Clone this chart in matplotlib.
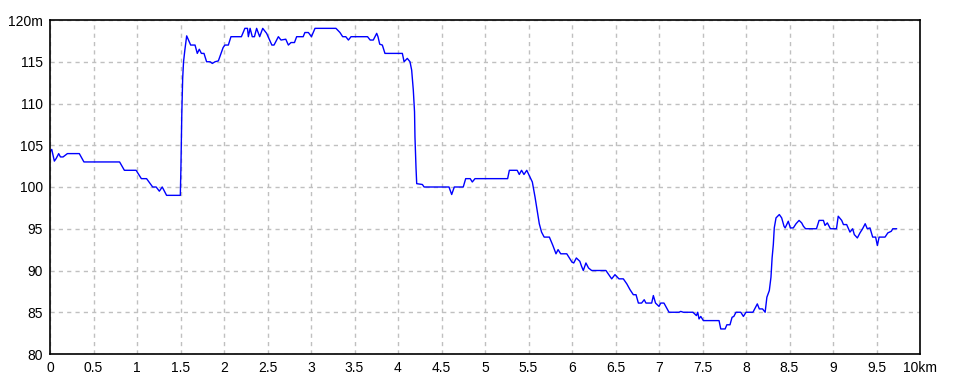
import matplotlib
matplotlib.use("Agg")
import matplotlib.pyplot as plt

# ==============================
# DATA
# ==============================

dist_km = [
    0.00, 0.02, 0.05, 0.07, 0.10, 0.12, 0.15, 0.20, 0.337, 0.39, 0.80, 0.855,
    0.99, 1.05, 1.11, 1.18, 1.22, 1.257, 1.29, 1.34, 1.498, 1.505, 1.515, 1.525,
    1.535, 1.55, 1.571, 1.617, 1.667, 1.693, 1.716, 1.74, 1.77, 1.80, 1.84,
    1.866, 1.897, 1.935, 1.99, 2.01, 2.05, 2.08, 2.20, 2.24, 2.27, 2.28, 2.30,
    2.325, 2.35, 2.375, 2.41, 2.445, 2.49, 2.55, 2.575, 2.625, 2.655, 2.71,
    2.74, 2.77, 2.81, 2.835, 2.91, 2.93, 2.97, 3.005, 3.046, 3.287, 3.333,
    3.364, 3.40, 3.43, 3.46, 3.65, 3.68, 3.716, 3.755, 3.77, 3.79, 3.82, 3.85,
    4.05, 4.07, 4.107, 4.138, 4.157, 4.176, 4.19, 4.195, 4.207, 4.215, 4.28,
    4.30, 4.586, 4.617, 4.647, 4.75, 4.778, 4.83, 4.854, 4.885, 5.26, 5.28,
    5.37, 5.394, 5.42, 5.448, 5.48, 5.517, 5.544, 5.575, 5.60, 5.624, 5.65,
    5.68, 5.74, 5.78, 5.816, 5.84, 5.87, 5.94, 6.00, 6.02, 6.05, 6.09, 6.11,
    6.13, 6.16, 6.19, 6.226, 6.39, 6.456, 6.494, 6.54, 6.59, 6.63, 6.667,
    6.705, 6.736, 6.763, 6.80, 6.83, 6.85, 6.916, 6.935, 6.96, 7.00, 7.02,
    7.057, 7.115, 7.23, 7.25, 7.28, 7.39, 7.43, 7.445, 7.46, 7.48, 7.51, 7.69,
    7.71, 7.76, 7.78, 7.816, 7.84, 7.86, 7.885, 7.94, 7.97, 8.00, 8.08, 8.10,
    8.13, 8.153, 8.19, 8.22, 8.24, 8.268, 8.287, 8.30, 8.314, 8.325, 8.345,
    8.383, 8.41, 8.437, 8.45, 8.486, 8.51, 8.544, 8.575, 8.61, 8.64, 8.66,
    8.685, 8.81, 8.84, 8.89, 8.908, 8.935, 8.97, 9.04, 9.06, 9.10, 9.12, 9.157,
    9.195, 9.226, 9.245, 9.28, 9.31, 9.34, 9.37, 9.394, 9.425, 9.456, 9.49,
    9.51, 9.53, 9.598, 9.63, 9.67, 9.687, 9.73,
]

elev_m = [
    104.2, 104.5, 103.1, 103.4, 104.0, 103.6, 103.6, 104.0, 104.0, 103.0, 103.0, 102.0,
    102.0, 101.0, 101.0, 100.0, 100.0, 99.5, 100.0, 99.0, 99.0, 102.4, 108.8, 113.0,
    115.0, 116.4, 118.1, 117.0, 117.0, 116.0, 116.5, 116.0, 116.0, 115.0, 115.0,
    114.8, 115.0, 115.1, 116.7, 117.0, 117.0, 118.0, 118.0, 119.0, 119.0, 118.0, 119.0,
    118.0, 118.0, 119.0, 118.0, 119.0, 118.4, 117.0, 117.0, 118.0, 117.6, 117.7,
    117.0, 117.3, 117.3, 118.0, 118.0, 118.5, 118.5, 118.0, 119.0, 119.0, 118.5,
    118.0, 118.0, 117.6, 118.0, 118.0, 117.6, 117.6, 118.4, 118.0, 117.1, 117.0, 116.0,
    116.0, 115.0, 115.4, 115.0, 114.0, 111.6, 109.0, 106.0, 102.3, 100.4, 100.3,
    100.0, 100.0, 99.1, 100.0, 100.0, 101.0, 101.0, 100.6, 101.0, 101.0, 102.0,
    102.0, 101.5, 102.0, 101.5, 102.0, 101.2, 100.6, 98.8, 97.2, 95.6, 94.6,
    94.0, 94.0, 93.0, 92.0, 92.5, 92.0, 92.0, 91.0, 90.9, 91.5, 91.1, 90.5,
    90.0, 90.9, 90.3, 90.0, 90.0, 89.0, 89.5, 89.0, 89.0, 88.4, 87.7,
    87.1, 87.1, 86.1, 86.1, 86.5, 86.1, 86.1, 87.0, 86.1, 85.7, 86.1,
    86.1, 85.0, 85.0, 85.1, 85.0, 85.0, 84.6, 85.0, 84.2, 84.5, 84.0, 84.0,
    83.0, 83.0, 83.5, 83.5, 84.4, 84.5, 85.0, 85.0, 84.5, 85.0, 85.0, 85.4,
    86.0, 85.4, 85.4, 85.0, 86.8, 87.6, 89.2, 91.5, 93.1, 95.1, 96.3,
    96.7, 96.3, 95.3, 95.1, 95.9, 95.1, 95.1, 95.6, 96.0, 95.7, 95.3,
    95.0, 95.0, 96.0, 96.0, 95.4, 95.7, 95.0, 95.0, 96.5, 96.0, 95.5, 95.5,
    94.6, 95.0, 94.3, 93.9, 94.5, 95.0, 95.6, 95.0, 95.1, 94.0, 94.0,
    93.0, 94.0, 94.0, 94.5, 94.7, 95.0, 95.0,
]

x_ticks = [0, 0.5, 1, 1.5, 2, 2.5, 3, 3.5, 4, 4.5, 5, 5.5, 6, 6.5, 7, 7.5, 8, 8.5, 9, 9.5, 10]
x_labels = ["0", "0.5", "1", "1.5", "2", "2.5", "3", "3.5", "4", "4.5", "5",
            "5.5", "6", "6.5", "7", "7.5", "8", "8.5", "9", "9.5", "10km"]
y_ticks = [80, 85, 90, 95, 100, 105, 110, 115, 120]
y_labels = ["80", "85", "90", "95", "100", "105", "110", "115", "120m"]

# ==============================
# PLOT
# ==============================

plt.rcParams['font.family'] = ['Liberation Sans Narrow', 'Liberation Sans', 'DejaVu Sans']

fig = plt.figure(figsize=(9.6, 3.84), dpi=100)
ax = fig.add_axes([50 / 960, 30 / 384, 870 / 960, 334 / 384])

ax.plot(dist_km, elev_m, color="#0000ff", linewidth=1.0)

ax.set_xlim(0, 10)
ax.set_ylim(80, 120)
ax.set_xticks(x_ticks)
ax.set_xticklabels(x_labels)
ax.set_yticks(y_ticks)
ax.set_yticklabels(y_labels)

ax.grid(True, color="#c0c0c0", linestyle=(0, (3, 3)), linewidth=1.0)
ax.tick_params(length=0, labelsize=10, pad=5)

for s in ax.spines.values():
    s.set_color("black")
    s.set_linewidth(1.2)

fig.savefig("out.png", dpi=100)
